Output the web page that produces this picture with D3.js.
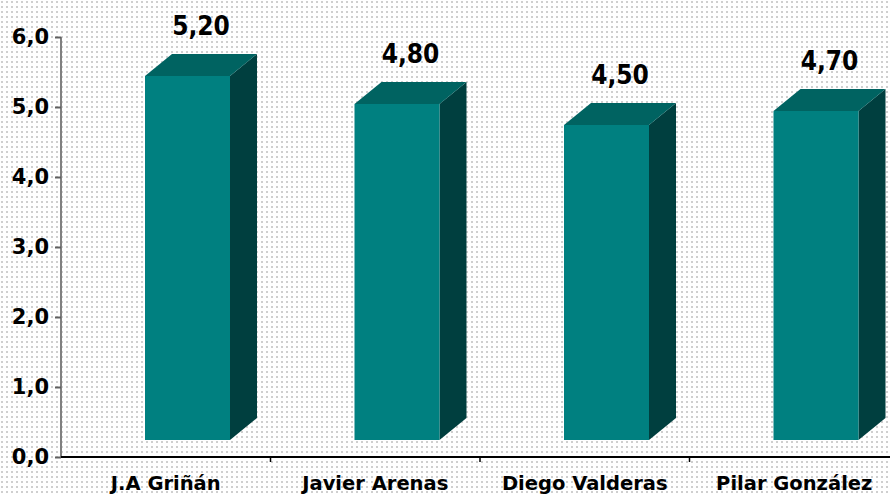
<!DOCTYPE html>
<html><head><meta charset="utf-8">
<script src="https://cdn.jsdelivr.net/npm/d3@7"></script>
<style>html,body{margin:0;padding:0;background:#fff;}svg{display:block;}</style>
</head><body>
<svg id="chart" width="890" height="495"></svg>
<script>
const categories = ["J.A Griñán", "Javier Arenas", "Diego Valderas", "Pilar González"];
const values = [5.20, 4.80, 4.50, 4.70];
const valueLabels = ["5,20", "4,80", "4,50", "4,70"];
const yTicks = [0, 1, 2, 3, 4, 5, 6];
const yTickLabels = ["0,0", "1,0", "2,0", "3,0", "4,0", "5,0", "6,0"];

const svg = d3.select("#chart");
const W = 890, H = 495;
const fontC = "'DejaVu Sans Condensed', 'DejaVu Sans', sans-serif";
const font = "'DejaVu Sans', sans-serif";

// dotted background
const defs = svg.append("defs");
const pat = defs.append("pattern").attr("id", "dots").attr("width", 5).attr("height", 5)
  .attr("patternUnits", "userSpaceOnUse");
pat.append("rect").attr("width", 5).attr("height", 5).attr("fill", "#ffffff");
pat.append("rect").attr("x", 1).attr("y", 1).attr("width", 2).attr("height", 2).attr("fill", "#cfcfcf");
svg.append("rect").attr("width", W).attr("height", H).attr("fill", "url(#dots)");

const x0 = 61, axisY = 457;
const x = d3.scaleBand().domain(categories).range([x0, x0 + 4 * 209.5]).paddingInner(0).paddingOuter(0);
const y = d3.scaleLinear().domain([0, 6]).range([axisY, 37]);

const dx = 27, dy = -22, lift = 17, frontOff = 84, frontW = 85;

const g = svg.append("g");
categories.forEach((c, i) => {
  const v = values[i];
  const xl = x(c) + frontOff, xr = xl + frontW;
  const yb = y(0) - lift, yt = y(v) - lift;
  g.append("path").attr("d", `M${xr},${yt}L${xr + dx},${yt + dy}L${xr + dx},${yb + dy}L${xr},${yb}Z`).attr("fill", "#003f3f");
  g.append("path").attr("d", `M${xl},${yt}L${xl + dx},${yt + dy}L${xr + dx},${yt + dy}L${xr},${yt}Z`).attr("fill", "#006361");
  g.append("rect").attr("x", xl).attr("y", yt).attr("width", frontW).attr("height", yb - yt).attr("fill", "#008080");
  g.append("text").attr("x", (xl + xr + dx) / 2).attr("y", yt + dy - 19)
    .attr("text-anchor", "middle").attr("font-family", fontC).attr("font-weight", "bold")
    .attr("font-size", 26).attr("fill", "#000").text(valueLabels[i]);
});

// y axis
const yAxis = d3.axisLeft(y).tickValues(yTicks).tickFormat((d, i) => yTickLabels[i]).tickSize(6).tickPadding(6);
const ya = svg.append("g").attr("transform", `translate(${x0},0)`).call(yAxis);
ya.select(".domain").attr("stroke", "#808080").attr("stroke-width", 2).attr("d", `M-0,${y(6)}V${axisY}`);
ya.selectAll(".tick line").attr("stroke", "#606060").attr("stroke-width", 2);
ya.selectAll(".tick text").attr("font-family", font).attr("font-weight", "bold").attr("font-size", 21).attr("fill", "#000");

// x axis
const xa = svg.append("g").attr("transform", `translate(0,${axisY})`);
xa.append("line").attr("x1", x0).attr("x2", W).attr("y1", 0).attr("y2", 0).attr("stroke", "#000").attr("stroke-width", 2);
categories.forEach((c, i) => {
  const bx = x(c) + x.bandwidth();
  xa.append("line").attr("x1", bx).attr("x2", bx).attr("y1", 0).attr("y2", 5).attr("stroke", "#000").attr("stroke-width", 1.5);
  xa.append("text").attr("x", x(c) + x.bandwidth() / 2).attr("y", 32.5).attr("text-anchor", "middle")
    .attr("font-family", font).attr("font-weight", "bold").attr("font-size", 19.5).attr("fill", "#000").text(c);
});
</script>
</body></html>
